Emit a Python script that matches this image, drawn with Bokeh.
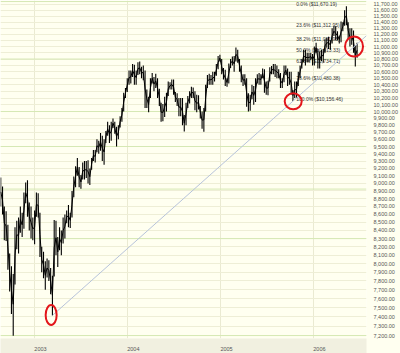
import numpy as np
import pandas as pd
from bokeh.plotting import figure
from bokeh.models import Range1d, FixedTicker, NumeralTickFormatter, DatetimeTickFormatter, ColumnDataSource, Span
from bokeh.core.properties import value
from bokeh.embed import file_html
from bokeh.resources import INLINE

# ---- weekly highs / lows (Dow Jones Industrials), week of 2002-08-19 .. 2006-06-19 ----
high_2002 = [9077, 8960, 8700, 8640, 8470, 8120, 7970, 7880, 8440, 8520, 8560, 8700, 8620, 8880, 9010, 9043, 8750, 8700, 8560, 8650]
low_2002 = [8700, 8600, 8280, 8270, 7930, 7680, 7430, 7197, 7760, 8170, 8120, 8370, 8320, 8420, 8740, 8570, 8400, 8300, 8280, 8230]
high_2003 = [8880, 8870, 8620, 8200, 8140, 8030, 8060, 8040, 7950, 7860, 8530, 8520, 8320, 8440, 8400, 8560, 8600, 8650, 8720, 8620,
             8900, 9090, 9230, 9340, 9220, 9110, 9280, 9300, 9300, 9310, 9200, 9340, 9450, 9450, 9600, 9580, 9690, 9650, 9600, 9720,
             9850, 9800, 9850, 9900, 9850, 9780, 9800, 9930, 10050, 10280, 10350, 10500]
low_2003 = [8570, 8560, 8080, 7900, 7830, 7700, 7840, 7800, 7650, 7416, 7850, 8100, 7960, 8160, 8100, 8240, 8300, 8490, 8440, 8430,
            8560, 8820, 8950, 9100, 8950, 8930, 9050, 9050, 9070, 9000, 8980, 9180, 9300, 9280, 9420, 9400, 9440, 9300, 9250, 9550,
            9650, 9550, 9580, 9760, 9680, 9500, 9600, 9770, 9850, 10000, 10200, 10290]
high_2004 = [10620, 10620, 10720, 10710, 10620, 10750, 10760, 10680, 10700, 10620, 10330, 10220, 10500, 10580, 10520, 10570, 10500,
             10340, 10130, 10110, 10220, 10280, 10450, 10440, 10480, 10480, 10290, 10270, 10200, 10200, 10200, 9950, 10130, 10230,
             10300, 10370, 10360, 10300, 10250, 10240, 10080, 10000, 10050, 10400, 10550, 10570, 10550, 10600, 10600, 10720, 10850, 10868]
low_2004 = [10400, 10420, 10520, 10400, 10400, 10550, 10560, 10500, 10470, 10050, 10050, 9990, 10200, 10420, 10300, 10350, 10200,
            10080, 9850, 9860, 9920, 10000, 10230, 10330, 10330, 10250, 10140, 10080, 9930, 9930, 9800, 9710, 9800, 10050,
            10120, 10200, 10200, 10020, 9990, 10030, 9900, 9750, 9708, 10000, 10350, 10400, 10400, 10400, 10450, 10540, 10640, 10760]
high_2005 = [10800, 10660, 10630, 10500, 10730, 10800, 10840, 10850, 10984, 10950, 10800, 10700, 10560, 10560, 10500, 10270, 10250,
             10400, 10380, 10500, 10560, 10580, 10560, 10650, 10640, 10450, 10460, 10670, 10690, 10720, 10720, 10700, 10640, 10580,
             10500, 10700, 10700, 10650, 10600, 10600, 10320, 10450, 10450, 10600, 10700, 10800, 10950, 10950, 10900, 10900, 10900, 10880]
low_2005 = [10560, 10480, 10380, 10370, 10420, 10660, 10700, 10600, 10760, 10740, 10600, 10440, 10380, 10400, 10070, 10000, 10010,
            10180, 10100, 10140, 10420, 10400, 10400, 10500, 10280, 10250, 10240, 10450, 10560, 10560, 10520, 10500, 10500, 10350,
            10350, 10440, 10550, 10380, 10400, 10250, 10156, 10200, 10200, 10380, 10500, 10650, 10750, 10700, 10750, 10750, 10780, 10700]
high_2006 = [11000, 11060, 10960, 10920, 10950, 10960, 11120, 11140, 11160, 11100, 11300, 11330, 11330, 11250, 11180, 11410, 11400,
             11600, 11670, 11400, 11300, 11300, 11260, 11020, 11060]
low_2006 = [10700, 10900, 10650, 10650, 10770, 10740, 10900, 10980, 10960, 10950, 11050, 11170, 11100, 11100, 11050, 11070, 11250,
            11340, 11350, 11120, 11000, 11030, 10900, 10683, 10820]

week_high = high_2002 + high_2003 + high_2004 + high_2005 + high_2006
week_low = low_2002 + low_2003 + low_2004 + low_2005 + low_2006
week_dates = pd.date_range("2002-08-21", periods=len(week_high), freq="W-WED")

# axis ticks / labels
y_ticks = list(range(7200, 11800, 100))
green_levels = [11750, 10800, 10000, 9500, 8925, 8300, 7200]
year_starts = ["2003-01-01", "2004-01-01", "2005-01-01", "2006-01-01"]

# Fibonacci retracement (10,156.46 -> 11,670.19)
fib_labels = ["0.0% ($11,670.19)", "23.6% ($11,312.95)", "38.2% ($11,091.95)", "50.0% ($10,913.33)",
              "61.8% ($10,734.71)", "78.6% ($10,480.38)", "100.0% ($10,156.46)"]
fib_values = [11670.19, 11312.95, 11091.95, 10913.33, 10734.71, 10480.38, 10156.46]
fib_anchor = "2005-10-13"

# trend line through the two lows
trend_dates = ["2003-03-12", "2005-10-13"]
trend_values = [7416, 10156.46]

# red circles
circle_dates = ["2003-03-07", "2005-10-13", "2006-06-09"]
circle_values = [7420, 10150, 11000]
circle_w = [11, 17, 18]
circle_h = [20, 16, 20]

x_start = pd.Timestamp("2002-08-20")
x_end = pd.Timestamp("2006-07-28")

BG = "#FFFFF0"
p = figure(width=400, height=353, x_axis_type="datetime", y_axis_type="log",
           x_range=Range1d(x_start, x_end), y_range=Range1d(7169, 11768),
           y_axis_location="right", output_backend="svg", toolbar_location=None,
           min_border_left=0, min_border_top=0, min_border_right=24, min_border_bottom=11,
           background_fill_color=BG, border_fill_color=BG, outline_line_color=None)

def ms(d):
    return pd.Timestamp(d).value // 10**6

# grids
p.ygrid.ticker = FixedTicker(ticks=y_ticks)
p.ygrid.grid_line_color = "#EEEED6"
p.ygrid.grid_line_width = 1
p.xgrid.ticker = FixedTicker(ticks=[ms(d) for d in year_starts])
p.xgrid.grid_line_color = "#EAEAD2"

for lvl in green_levels:
    p.add_layout(Span(location=lvl, dimension="width", line_color="#D6E8B4", line_width=1, level="underlay"))

# axes
ya = p.yaxis[0]
ya.ticker = FixedTicker(ticks=y_ticks)
ya.formatter = NumeralTickFormatter(format="0,0.00")
ya.axis_line_color = None
ya.major_tick_line_color = None
ya.minor_tick_line_color = None
ya.major_label_standoff = 1
ya.major_label_text_font = "Liberation Sans"
ya.major_label_text_font_size = "5.5px"
ya.major_label_text_color = "#555555"

xa = p.xaxis[0]
xa.ticker = FixedTicker(ticks=[ms(pd.Timestamp(d) + pd.Timedelta(days=23)) for d in year_starts])
xa.formatter = DatetimeTickFormatter(years="%Y", months="%Y", days="%Y", hours="%Y")
xa.axis_line_color = None
xa.major_tick_line_color = None
xa.minor_tick_line_color = None
xa.major_label_standoff = 2
xa.major_label_text_font = "Liberation Sans"
xa.major_label_text_font_size = "5.5px"
xa.major_label_text_color = "#555555"
xa.background_fill_color = "#F1F0E0"

# fib labels
fib_src = ColumnDataSource(dict(x=[pd.Timestamp(fib_anchor)] * len(fib_values), y=fib_values, t=fib_labels))
p.text(x="x", y="y", text="t", source=fib_src, x_offset=3, y_offset=-2,
       text_font=value("Liberation Sans"), text_font_size="5px", text_color="#333333",
       text_baseline="middle", text_align="left")

# price bars
mid = [(h + l) / 2 for h, l in zip(week_high, week_low)]
src = ColumnDataSource(dict(d=week_dates, hi=week_high, lo=week_low, mid=mid))
p.segment(x0="d", y0="lo", x1="d", y1="hi", source=src, line_color="black", line_width=1.1)
p.line(x="d", y="mid", source=src, line_color="black", line_width=1)

# trend line (extended to the right edge in log space)
t0, t1 = pd.Timestamp(trend_dates[0]), pd.Timestamp(trend_dates[1])
slope = (np.log(trend_values[1]) - np.log(trend_values[0])) / (t1 - t0).days
v_end = float(np.exp(np.log(trend_values[0]) + slope * (x_end - t0).days))
p.line(x=[t0, x_end], y=[trend_values[0], v_end], line_color="#B7C3DA", line_width=1)

# circles
c_src = ColumnDataSource(dict(x=[pd.Timestamp(d) for d in circle_dates], y=circle_values, w=circle_w, h=circle_h))
p.ellipse(x="x", y="y", width="w", height="h", width_units="screen", height_units="screen",
          source=c_src, fill_color=None, line_color="#E3161B", line_width=2)

open("out.html", "w").write(file_html(p, INLINE))
